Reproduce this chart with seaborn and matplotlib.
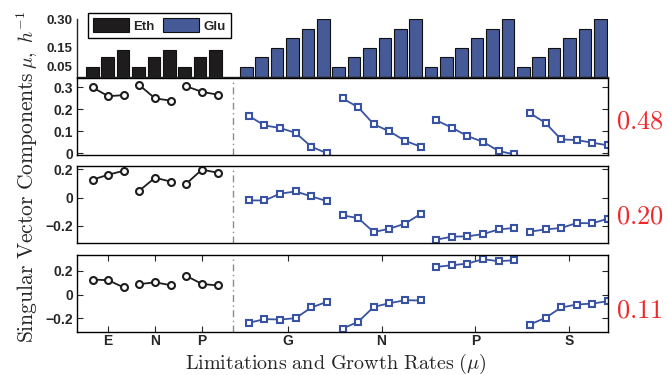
import numpy as np
import pandas as pd
import matplotlib
matplotlib.use("Agg")
import matplotlib.pyplot as plt
import seaborn as sns

# ---------------- data ----------------
eth_limits = ["E", "N", "P"]
glu_limits = ["G", "N", "P", "S"]
eth_per_group = 3
glu_per_group = 6

mu_eth = [0.05, 0.10, 0.14, 0.05, 0.10, 0.14, 0.05, 0.10, 0.14]
mu_glu = [0.05, 0.10, 0.15, 0.20, 0.25, 0.30,
          0.05, 0.10, 0.15, 0.20, 0.25, 0.30,
          0.05, 0.10, 0.15, 0.20, 0.25, 0.30,
          0.05, 0.10, 0.15, 0.20, 0.25, 0.30]

comp1_eth = [0.300, 0.260, 0.265, 0.310, 0.250, 0.240, 0.305, 0.280, 0.267]
comp1_glu = [0.170, 0.127, 0.115, 0.093, 0.030, 0.000,
             0.250, 0.210, 0.132, 0.100, 0.057, 0.030,
             0.150, 0.117, 0.078, 0.052, 0.010, -0.005,
             0.183, 0.138, 0.063, 0.060, 0.048, 0.036]

comp2_eth = [0.127, 0.162, 0.190, 0.050, 0.141, 0.113, 0.099, 0.198, 0.176]
comp2_glu = [-0.019, -0.020, 0.028, 0.044, 0.009, -0.024,
             -0.125, -0.144, -0.243, -0.219, -0.184, -0.115,
             -0.297, -0.275, -0.273, -0.257, -0.224, -0.214,
             -0.240, -0.224, -0.214, -0.179, -0.181, -0.148]

comp3_eth = [0.126, 0.120, 0.059, 0.087, 0.103, 0.078, 0.156, 0.089, 0.076]
comp3_glu = [-0.238, -0.207, -0.210, -0.199, -0.109, -0.062,
             -0.286, -0.230, -0.104, -0.073, -0.048, -0.050,
             0.232, 0.246, 0.260, 0.297, 0.280, 0.288,
             -0.252, -0.196, -0.109, -0.084, -0.076, -0.056]

singular_values = ["0.48", "0.20", "0.11"]
source_names = ["Eth", "Glu"]

# ---------------- build table ----------------
rows = []
slot = 0
for gi, lim in enumerate(eth_limits):
    for k in range(eth_per_group):
        i = gi * eth_per_group + k
        rows.append(dict(source="Eth", lim=lim, seg=f"Eth-{lim}", slot=slot,
                         mu=mu_eth[i], c1=comp1_eth[i], c2=comp2_eth[i], c3=comp3_eth[i]))
        slot += 1
gap_slot = slot
slot += 1
for gi, lim in enumerate(glu_limits):
    for k in range(glu_per_group):
        i = gi * glu_per_group + k
        rows.append(dict(source="Glu", lim=lim, seg=f"Glu-{lim}", slot=slot,
                         mu=mu_glu[i], c1=comp1_glu[i], c2=comp2_glu[i], c3=comp3_glu[i]))
        slot += 1
df = pd.DataFrame(rows)
last_slot = slot - 1

# ---------------- style ----------------
sns.set_style("white")
plt.rcParams["font.family"] = ["Liberation Sans", "DejaVu Sans"]
plt.rcParams["mathtext.fontset"] = "cm"
plt.rcParams["axes.linewidth"] = 1.0

BLACK = "#1e1c1d"
BLUE = "#3953a4"
RED = "#f0282a"
colors = {"Eth": BLACK, "Glu": BLUE}

W, H = 668, 375
fig = plt.figure(figsize=(W / 100, H / 100), dpi=100)

def frac(left, top, right, bottom):
    return [left / W, 1 - bottom / H, (right - left) / W, (bottom - top) / H]

L, R = 77, 608
axb = fig.add_axes(frac(L, 19, R, 76.5))
ax1 = fig.add_axes(frac(L, 78, R, 155))
ax2 = fig.add_axes(frac(L, 165.5, R, 243))
ax3 = fig.add_axes(frac(L, 255, R, 332))

# ---------------- bar panel ----------------
sns.barplot(data=df, x="slot", y="mu", hue="source", hue_order=source_names,
            palette=colors, native_scale=True, dodge=False, width=0.82,
            edgecolor="#111111", linewidth=0.8, errorbar=None, ax=axb)
axb.set_xlim(-1, last_slot + 0.5)
axb.set_ylim(0, 0.30)
axb.set_yticks([0.05, 0.15, 0.30])
axb.set_yticklabels(["0.05", "0.15", "0.30"])
axb.tick_params(axis="y", direction="in", length=4, width=0.8, labelsize=9.5, pad=3)
axb.tick_params(axis="x", bottom=False, labelbottom=False)
axb.set_xlabel("")
axb.set_ylabel("")
for s in ["top", "right"]:
    axb.spines[s].set_visible(False)
for lab in axb.get_yticklabels():
    lab.set_fontweight("bold")
handles, labels = axb.get_legend_handles_labels()
leg = axb.legend(handles, labels, loc="upper left", ncol=2,
                 bbox_to_anchor=(88 / W, 1 - 13 / H), bbox_transform=fig.transFigure,
                 borderaxespad=0, frameon=True, fancybox=False, framealpha=1,
                 edgecolor="black", handlelength=2.7, handleheight=1.25,
                 handletextpad=0.3, columnspacing=0.7, borderpad=0.4,
                 prop={"weight": "bold", "size": 9.5})
leg.get_frame().set_linewidth(1.0)

# ---------------- singular vector panels ----------------
panels = [(ax1, "c1", (-0.008, 0.343), [0, 0.1, 0.2, 0.3], ["0", "0.1", "0.2", "0.3"]),
          (ax2, "c2", (-0.32, 0.227), [-0.2, 0, 0.2], ["\u22120.2", "0", "0.2"]),
          (ax3, "c3", (-0.315, 0.332), [-0.2, 0, 0.2], ["\u22120.2", "0", "0.2"])]

for ax, col, ylim, yt, ytl in panels:
    for seg, sub in df.groupby("seg", sort=False):
        src = sub["source"].iloc[0]
        c = colors[src]
        sns.lineplot(data=sub, x="slot", y=col, estimator=None, ax=ax, color=c,
                     lw=1.3, marker="o" if src == "Eth" else "s",
                     markersize=5 if src == "Eth" else 4.6,
                     markerfacecolor="white", markeredgecolor=c,
                     markeredgewidth=1.5, legend=False)
    ax.axvline(gap_slot, color="0.55", ls=(0, (5, 2.5, 1, 2.5)), lw=1.0, zorder=0)
    ax.set_xlim(-1, last_slot)
    ax.set_ylim(*ylim)
    ax.set_yticks(yt)
    ax.set_yticklabels(ytl)
    ax.tick_params(axis="y", direction="in", left=True, right=True, length=4,
                   width=0.8, labelsize=10, pad=3)
    for lab in ax.get_yticklabels():
        lab.set_fontweight("bold")
    ax.set_xlabel("")
    ax.set_ylabel("")
    for s in ax.spines.values():
        s.set_visible(True)
        s.set_color("black")
        s.set_linewidth(1.0)
    if ax is not ax3:
        ax.tick_params(axis="x", bottom=False, top=False, labelbottom=False)

# x ticks on the last panel at group centres
tick_pos = df.groupby("seg", sort=False)["slot"].mean().values
tick_lab = list(df.groupby("seg", sort=False)["lim"].first().values)
ax3.set_xticks(tick_pos)
ax3.set_xticklabels(tick_lab)
ax3.tick_params(axis="x", direction="in", bottom=True, top=True, length=4,
                width=0.8, labelsize=10, pad=1.5)
for lab in ax3.get_xticklabels():
    lab.set_fontweight("bold")

# ---------------- labels ----------------
fig.text(27 / W, 1 - 207 / H, r"$\mathrm{Singular\ Vector\ Components}$",
         rotation=90, ha="center", va="center", fontsize=15.5)
fig.text(27 / W, 1 - 40 / H, r"$\mu,\ h^{-1}$", rotation=90, ha="center",
         va="center", fontsize=14)
fig.text(336 / W, 1 - 364 / H, r"$\mathrm{Limitations\ and\ Growth\ Rates\ (}\mu\mathrm{)}$",
         ha="center", va="center", fontsize=14.5)
for txt, yc in zip(singular_values, [121.3, 216.3, 310]):
    fig.text(616 / W, 1 - yc / H, "$" + txt + "$", color=RED, ha="left",
             va="center", fontsize=19)

fig.savefig("out.png", dpi=100)
